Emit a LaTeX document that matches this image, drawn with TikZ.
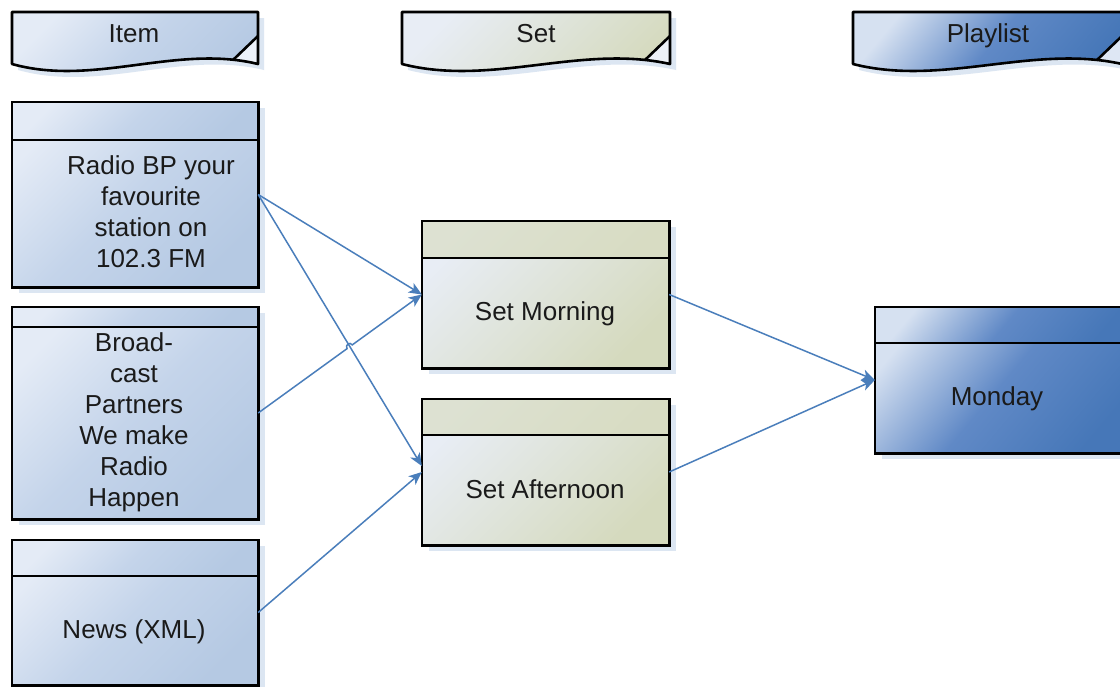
\documentclass[tikz,border=0pt]{standalone}
\usepackage{fontspec}
\setmainfont{Liberation Sans}
\usetikzlibrary{arrows.meta,calc}

\definecolor{ink}{HTML}{1A1A1A}
\definecolor{shadowc}{HTML}{DCE6F2}
\definecolor{linkc}{HTML}{4A7EBB}
% item palette
\definecolor{itemA}{HTML}{E4EBF6}
\definecolor{itemM}{HTML}{C4D4EA}
\definecolor{itemB}{HTML}{B5C9E3}
% set palette
\definecolor{setA}{HTML}{E8EDF5}
\definecolor{setB}{HTML}{D5DABE}
\definecolor{setH}{HTML}{D8DCC3}
% playlist palette
\definecolor{plA}{HTML}{D6E1F1}
\definecolor{plM}{HTML}{6089C6}
\definecolor{plB}{HTML}{4677B8}

\tikzset{
  label/.style={font=\fontsize{26}{31}\selectfont, text=ink, inner sep=0pt},
  multi/.style={label, align=center},
  ent/.style={rectangle, inner sep=0pt, shading angle=45},
  border/.style={draw=black, line width=2.6pt},
  conn/.style={draw=linkc, line width=1.5pt,
    -{Stealth[length=13pt,width=11pt,inset=3.5pt]}},
  itemshade/.style={top color=itemA, bottom color=itemB, middle color=itemM, shading angle=45},
  setshade/.style={top color=setA, bottom color=setB, shading angle=45},
  plshade/.style={top color=plA, bottom color=plB, middle color=plM, shading angle=50},
}

% entity box: shadow, shaded body, shaded header bar, outline
% #1 name, #2 body shading, #3 header shading, #4 header height
\newcommand\EntFrame[4]{%
  \fill[shadowc] ([xshift=7pt,yshift=-6pt]#1.south west) rectangle ([xshift=7pt,yshift=-6pt]#1.north east);
  \path[#2] (#1.south west) rectangle (#1.north east);
  \path[#3] (#1.north west) rectangle ([yshift=-#4pt]#1.north east);
  \draw[border] (#1.south west) rectangle (#1.north east);
  \draw[border] ([yshift=-#4pt]#1.north west) -- ([yshift=-#4pt]#1.north east);
}

% document-shaped column heading: #1 left x, #2 right x, #3 shading, #4 fold fill
\newcommand\DocHead[4]{%
  \fill[shadowc] (#1+6,18) -- (#2+6,18) -- (#2+6,70)
     .. controls ({#2-(#2-#1)/3+6},50) and ({#1+(#2-#1)/3+6},93) .. (#1+6,70) -- cycle;
  \path[#3] (#1,12) -- (#2,12) -- (#2,64)
     .. controls ({#2-(#2-#1)/3},44) and ({#1+(#2-#1)/3},87) .. (#1,64) -- cycle;
  \fill[#4] (#2,36) -- (#2-25,60) -- (#2,64) -- cycle;
  \draw[border, line join=round] (#1,12) -- (#2,12) -- (#2,64)
     .. controls ({#2-(#2-#1)/3},44) and ({#1+(#2-#1)/3},87) .. (#1,64) -- cycle;
  \draw[border] (#2,36) -- (#2-25,60);
}

\begin{document}
\begin{tikzpicture}[x=1pt,y=-1pt]
\clip (0,0) rectangle (1120,686);
\fill[white] (0,0) rectangle (1120,686);

% column headings
\DocHead{12}{258}{itemshade}{itemA!70!white}
\DocHead{402}{670}{setshade}{setA!80!white}
\DocHead{853}{1122}{plshade}{plA!80!white}
\node[label, anchor=base] (itemhd) at (134,42) {Item};
\node[label, anchor=base] (sethd) at (536,42) {Set};
\node[label, anchor=base] (plhd) at (988,42) {Playlist};

% items
\node[ent, minimum width=246pt, minimum height=185pt] (radio) at (135,194.5) {};
\EntFrame{radio}{itemshade}{itemshade}{38}
\node[multi] (radiotxt) at (151,212) {Radio BP your\\favourite\\station on\\102.3 FM};

\node[ent, minimum width=246pt, minimum height=212pt] (bcast) at (135,413) {};
\EntFrame{bcast}{itemshade}{itemshade}{20}
\node[multi] (bcasttxt) at (134,422) {Broad-\\cast\\Partners\\We make\\Radio\\Happen};

\node[ent, minimum width=246pt, minimum height=145pt] (news) at (135,612.5) {};
\EntFrame{news}{itemshade}{itemshade}{36}
\node[label, anchor=base] (newstxt) at (134,638) {News (XML)};

% sets
\node[ent, minimum width=247pt, minimum height=147pt] (morning) at (545.5,294.5) {};
\EntFrame{morning}{setshade}{top color=setH!70!setA, bottom color=setH, shading angle=45}{37}
\node[label, anchor=base] (morningtxt) at (545,320) {Set Morning};

\node[ent, minimum width=247pt, minimum height=146pt] (afternoon) at (545.5,472) {};
\EntFrame{afternoon}{setshade}{top color=setH!70!setA, bottom color=setH, shading angle=45}{36}
\node[label, anchor=base] (afternoontxt) at (545,498) {Set Afternoon};

% playlist
\node[ent, minimum width=260pt, minimum height=146pt] (monday) at (1005,380) {};
\EntFrame{monday}{plshade}{plshade}{36}
\node[label, anchor=base] (mondaytxt) at (997,405) {Monday};

% links
\draw[conn] (radio.east) -- (morning.west);
\draw[conn] (radio.east) -- ([yshift=6pt]afternoon.west);
\draw[conn] (bcast.east) -- ($(bcast.east)!0.543!(morning.west)$)
   .. controls +(-2.3,-3.6) and +(-2.3,-3.6) .. ($(bcast.east)!0.575!(morning.west)$)
   -- (morning.west);
\draw[conn] (news.east) -- (afternoon.west);
\draw[conn] (morning.east) -- (monday.west);
\draw[conn] (afternoon.east) -- (monday.west);
\end{tikzpicture}
\end{document}
